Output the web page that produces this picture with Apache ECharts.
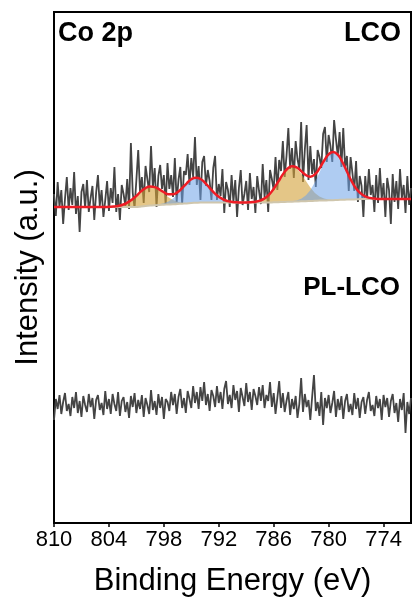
<!DOCTYPE html>
<html><head><meta charset="utf-8">
<script src="https://cdn.jsdelivr.net/npm/echarts@6/dist/echarts.min.js"></script>
<style>html,body{margin:0;padding:0;background:#fff}#c{width:413px;height:599px}</style>
</head><body><div id="c"></div>
<script>
// X axis tick labels (binding energy, eV)
const xTicks = [810, 804, 798, 792, 786, 780, 774];

// Raw spectra, sampled every 0.2 eV from 810 eV down to 771 eV (196 points)
const rawStart = 810, rawStep = 0.2;
const lco = [
329,307,341,316,333,299,324,346,313,335,
318,351,309,327,291,331,339,315,343,311,
325,337,303,330,348,317,333,306,323,342,
312,335,320,356,311,329,303,338,329,317,
344,314,380,330,315,343,373,331,346,320,
357,344,331,377,335,355,316,347,358,334,
348,318,360,334,348,326,365,321,343,356,
319,352,348,369,338,365,346,386,338,357,
323,361,367,337,353,342,323,355,367,323,
339,327,354,310,341,333,316,348,321,343,
306,335,353,318,329,342,313,350,324,336,
310,347,332,319,359,326,343,311,353,344,
333,366,333,363,352,382,346,367,395,354,
375,345,382,364,354,401,341,373,398,343,
377,349,364,336,373,366,355,389,396,361,
388,377,361,403,384,367,391,356,395,356,
367,332,366,350,332,362,321,347,337,306,
347,324,354,328,338,311,348,320,355,324,
340,306,345,333,299,349,321,342,314,354,
325,338,310,347,318,335
];
const plLco = [
103,124,114,128,109,121,130,112,119,107,
126,115,131,110,122,106,127,118,111,129,
116,125,104,123,128,113,120,108,132,114,
124,109,129,119,112,131,107,122,126,111,
121,105,127,116,130,110,123,114,128,106,
125,118,109,133,113,122,108,129,115,126,
104,124,121,112,131,118,129,109,126,134,
115,125,110,132,124,115,137,120,131,114,
136,122,141,118,129,112,133,127,116,137,
120,131,114,134,142,119,128,115,138,123,
132,111,135,126,117,140,121,131,113,134,
127,118,136,122,138,115,128,122,141,116,
130,109,125,142,115,130,111,122,131,108,
124,114,127,105,119,145,111,129,116,123,
103,126,148,112,121,107,131,98,125,115,
128,110,120,132,106,124,113,127,104,122,
129,111,119,108,130,114,125,105,121,126,
109,123,131,112,118,107,127,115,124,103,
128,116,125,106,122,129,110,120,101,124,
113,130,90,121,109,125
];

// Peak fit, sampled every 0.5 eV from 810 eV down to 771 eV (79 points)
const fitStart = 810, fitStep = 0.5;
const fitBaseline = [
316,316,316,316,316,316,316,316,316,316,
316,316,316,316,316,316,316,316,316,316.6,
317,317.4,317.8,318.1,318.3,318.5,318.7,319,319.3,319.6,
320,320.2,320.4,320.5,320.5,320.5,320.5,320.5,320.5,320.5,
320.5,320.5,320.5,320.5,320.5,320.5,320.5,320.5,320.7,320.8,
321,321.2,321.3,321.5,321.7,321.8,322,322.2,322.4,322.5,
322.7,322.8,323.1,323.2,323.4,323.5,323.7,323.9,324,324,
324,324,324,324,324,324,324,324,324
];
const fitSat1 = [
0,0,0,0,0,0,0,0,0,0,
0,0,0.2,0.4,1.0,2.2,4.3,7.3,11.1,15.0,
17.9,19,17.9,15.0,11.1,7.3,4.3,2.2,1.0,0.4,
0.2,0,0,0,0,0,0,0,0,0,
0,0,0,0,0,0,0,0,0,0,
0,0,0,0,0,0,0,0,0,0,
0,0,0,0,0,0,0,0,0,0,
0,0,0,0,0,0,0,0,0
];
const fitCo2p12 = [
0,0,0,0,0,0,0,0,0,0,
0,0,0,0,0,0,0,0,0,0,
0,0,0.2,0.6,1.4,3.0,5.7,9.7,14.7,19.7,
23.6,25,23.6,19.7,14.7,9.7,5.7,3.0,1.4,0.6,
0.2,0,0,0,0,0,0,0,0,0,
0,0,0,0,0,0,0,0,0,0,
0,0,0,0,0,0,0,0,0,0,
0,0,0,0,0,0,0,0,0
];
const fitSat2 = [
0,0,0,0,0,0,0,0,0,0,
0,0,0,0,0,0,0,0,0,0,
0,0,0,0,0,0,0,0,0,0,
0,0,0,0,0,0,0,0,0,0,
0,0,0,0.3,0.8,1.9,4.1,7.9,13.5,20.5,
27.6,33.0,35,33.0,27.6,20.5,13.5,7.9,4.1,1.9,
0.8,0.3,0,0,0,0,0,0,0,0,
0,0,0,0,0,0,0,0,0
];
const fitCo2p32 = [
0,0,0,0,0,0,0,0,0,0,
0,0,0,0,0,0,0,0,0,0,
0,0,0,0,0,0,0,0,0,0,
0,0,0,0,0,0,0,0,0,0,
0,0,0,0,0,0,0,0,0,0,
0,0,0.4,1.1,2.6,5.7,10.8,18.5,28.1,37.8,
45.2,48,45.2,37.8,28.1,18.5,10.8,5.7,2.6,1.1,
0.4,0,0,0,0,0,0,0,0
];

const FONT = '"Liberation Sans", Arial, Helvetica, sans-serif';
const rawE = lco.map((_, i) => +(rawStart - rawStep * i).toFixed(1));
const fitE = fitBaseline.map((_, i) => +(fitStart - fitStep * i).toFixed(1));
const zip = (xs, ys) => xs.map((x, i) => [x, ys[i]]);
const comps = [fitSat1, fitCo2p12, fitSat2, fitCo2p32];
const envelope = fitBaseline.map((b, i) => b + comps.reduce((s, c) => s + c[i], 0));
const compColors = ['rgba(210,160,55,0.6)', 'rgba(110,162,232,0.55)', 'rgba(210,160,55,0.6)', 'rgba(110,162,232,0.55)'];

function areaSeries(comp, color) {
  const rows = fitE.map((e, i) => [e, fitBaseline[i], fitBaseline[i] + comp[i]]);
  return {
    type:'custom', data: rows, encode:{x:0, y:[1, 2]}, z:3, silent:true, clip:true,
    renderItem: (params, api) => {
      if (params.dataIndex !== 0) return null;
      const top = rows.map(r => api.coord([r[0], r[2]]));
      const bot = rows.slice().reverse().map(r => api.coord([r[0], r[1]]));
      return {type:'polygon', shape:{points: top.concat(bot)}, style:{fill: color}};
    }
  };
}

const series = [
  {type:'line', data: zip(rawE, lco), symbol:'none', lineStyle:{color:'#444', width:1.8}, z:2, silent:true},
  {type:'line', data: zip(rawE, plLco), symbol:'none', lineStyle:{color:'#444', width:1.8}, z:2, silent:true}
];
comps.forEach((c, k) => series.push(areaSeries(c, compColors[k])));
series.push({type:'line', data: zip(fitE, fitBaseline), symbol:'none', smooth:true,
  lineStyle:{color:'#cfc6ad', width:2}, z:4, silent:true});
series.push({type:'line', data: zip(fitE, envelope), symbol:'none', smooth:true,
  lineStyle:{color:'#ee1c25', width:2.5}, z:5, silent:true});

const chart = echarts.init(document.getElementById('c'), null, {renderer:'canvas'});
chart.setOption({
  animation:false,
  backgroundColor:'#fff',
  grid:{left:54, right:2, top:12, bottom:76, show:true, borderColor:'#000', borderWidth:2, outerBoundsMode:'none'},
  xAxis:{
    type:'value', min:771, max:810, inverse:true,
    axisLine:{show:true, lineStyle:{color:'#000', width:2}},
    axisTick:{show:true, inside:false, length:4, lineStyle:{color:'#000', width:1.5}, customValues:xTicks},
    axisLabel:{customValues:xTicks, fontSize:22, color:'#000', fontFamily:FONT, margin:6},
    splitLine:{show:false},
    name:'Binding Energy (eV)', nameLocation:'middle', nameGap:43,
    nameTextStyle:{fontSize:31, color:'#000', fontFamily:FONT}
  },
  yAxis:{
    type:'value', min:0, max:511,
    axisLine:{show:true, lineStyle:{color:'#000', width:2}},
    axisTick:{show:false}, axisLabel:{show:false}, splitLine:{show:false},
    name:'Intensity (a.u.)', nameLocation:'middle', nameGap:10,
    nameTextStyle:{fontSize:31, color:'#000', fontFamily:FONT}
  },
  graphic:[
    {type:'text', left:58, top:20, style:{text:'Co 2p', font:'bold 27px ' + FONT, fill:'#000'}},
    {type:'text', right:12, top:20, style:{text:'LCO', font:'bold 27px ' + FONT, fill:'#000'}},
    {type:'text', right:13, top:275, style:{text:'PL-LCO', font:'bold 26px ' + FONT, fill:'#000'}}
  ],
  series: series
});
</script>
</body></html>
